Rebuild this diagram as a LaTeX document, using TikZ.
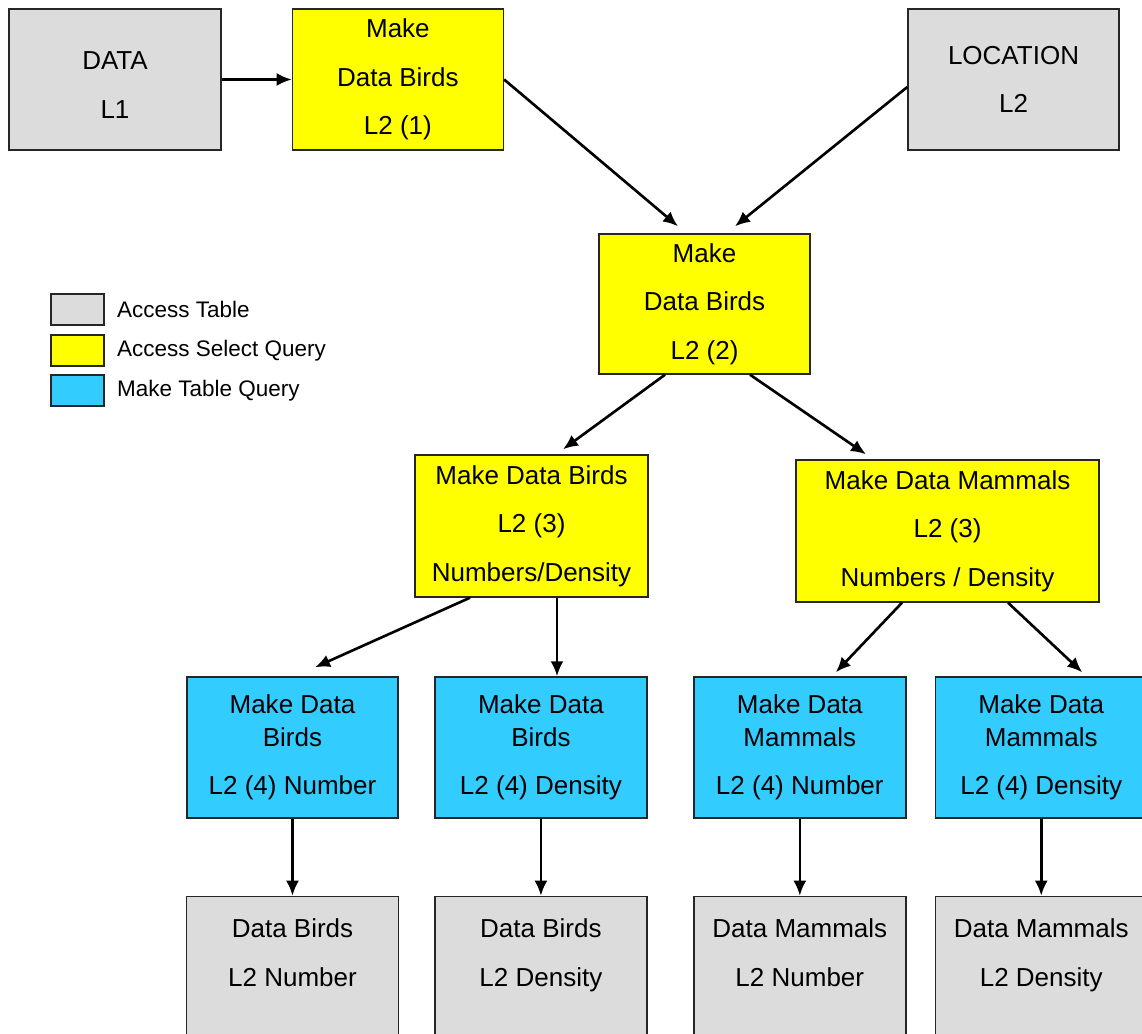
\documentclass[tikz,border=0pt]{standalone}
\usepackage{fontspec}
\setmainfont{Liberation Sans}
\usetikzlibrary{arrows.meta,positioning}
\definecolor{tblgray}{HTML}{DCDCDC}
\definecolor{selyellow}{HTML}{FFFF00}
\definecolor{mkblue}{HTML}{33CCFF}

\begin{document}
\begin{tikzpicture}[
  box/.style={draw=black!85,line width=0.8pt,align=center,inner sep=2pt,font=\fontsize{14.8}{27.5}\selectfont},
  tbl/.style={box,fill=tblgray},
  sel/.style={box,fill=selyellow},
  mk/.style={box,fill=mkblue},
  key/.style={draw=black!85,line width=0.8pt,minimum width=1.06cm,minimum height=0.62cm,inner sep=0pt},
  keytext/.style={right=0.24cm of #1,inner sep=0pt,font=\fontsize{12.8}{15}\selectfont},
  arr/.style={-{Latex[length=3mm,width=2.6mm]},line width=1.5pt}]
\useasboundingbox (0,0) rectangle (22.84,-20.68);
\fill[white] (0,0) rectangle (22.84,-20.68);
\clip (0,0) rectangle (22.84,-20.68);

% top row
\node[tbl,minimum width=4.24cm,minimum height=2.82cm] (data) at (2.30,-1.59) {\mbox{}\\[-11pt]DATA\\L1};
\node[sel,right=1.4cm of data,minimum width=4.22cm,minimum height=2.82cm] (birds1) {Make\\Data Birds\\L2 (1)};
\node[tbl,minimum width=4.22cm,minimum height=2.82cm] (location) at (20.27,-1.59) {LOCATION\\L2};

% select queries
\node[sel,minimum width=4.22cm,minimum height=2.80cm] (birds2) at (14.09,-6.08) {Make\\Data Birds\\L2 (2)};
\node[sel,minimum width=4.66cm,minimum height=2.84cm] (birds3) at (10.63,-10.52) {Make Data Birds\\L2 (3)\\Numbers/Density};
\node[sel,minimum width=6.06cm,minimum height=2.84cm] (mammals3) at (18.95,-10.62) {Make Data Mammals\\L2 (3)\\Numbers / Density};

% make table queries
\node[mk,minimum width=4.22cm,minimum height=2.82cm] (nbirds) at (5.85,-14.95) {Make Data\\[-9pt]Birds\\L2 (4) Number};
\node[mk,right=0.71cm of nbirds,minimum width=4.24cm,minimum height=2.82cm] (dbirds) {Make Data\\[-9pt]Birds\\L2 (4) Density};
\node[mk,right=0.91cm of dbirds,minimum width=4.24cm,minimum height=2.82cm] (nmammals) {Make Data\\[-9pt]Mammals\\L2 (4) Number};
\node[mk,right=0.56cm of nmammals,minimum width=4.24cm,minimum height=2.82cm] (dmammals) {Make Data\\[-9pt]Mammals\\L2 (4) Density};

% result tables
\node[tbl,below=1.54cm of nbirds,minimum width=4.24cm,minimum height=2.82cm] (tnbirds) {Data Birds\\L2 Number\\[-11pt]\mbox{}};
\node[tbl,below=1.54cm of dbirds,minimum width=4.24cm,minimum height=2.82cm] (tdbirds) {Data Birds\\L2 Density\\[-11pt]\mbox{}};
\node[tbl,below=1.54cm of nmammals,minimum width=4.24cm,minimum height=2.82cm] (tnmammals) {Data Mammals\\L2 Number\\[-11pt]\mbox{}};
\node[tbl,below=1.54cm of dmammals,minimum width=4.24cm,minimum height=2.82cm] (tdmammals) {Data Mammals\\L2 Density\\[-11pt]\mbox{}};

% legend
\node[key,fill=tblgray] (ktbl) at (1.55,-6.19) {};
\node[key,fill=selyellow] (ksel) at (1.55,-7.01) {};
\node[key,fill=mkblue] (kmk) at (1.55,-7.81) {};
\node[keytext=ktbl] (ltbl) {Access Table};
\node[keytext=ksel] (lsel) {Access Select Query};
\node[keytext=kmk] (lmk) {Make Table Query};

\draw[arr] (data) -- (birds1);
\draw[arr] (birds1.east) -- ([shift={(-0.53,0.14)}]birds2.north);
\draw[arr] ([yshift=-0.15cm]location.west) -- ([shift={(0.61,0.14)}]birds2.north);
\draw[arr] ([xshift=-0.79cm]birds2.south) -- ([shift={(0.63,0.10)}]birds3.north);
\draw[arr] ([xshift=0.91cm]birds2.south) -- ([shift={(-1.63,0.10)}]mammals3.north);
\draw[arr] ([xshift=-1.23cm]birds3.south) -- ([shift={(0.45,0.18)}]nbirds.north);
\draw[arr] ([xshift=0.51cm]birds3.south) -- ([xshift=0.51cm]birds3.south |- dbirds.north);
\draw[arr] ([xshift=-0.91cm]mammals3.south) -- ([shift={(0.72,0.08)}]nmammals.north);
\draw[arr] ([xshift=1.21cm]mammals3.south) -- ([shift={(0.82,0.08)}]dmammals.north);
\draw[arr] (nbirds) -- (tnbirds);
\draw[arr] (dbirds) -- (tdbirds);
\draw[arr] (nmammals) -- (tnmammals);
\draw[arr] (dmammals) -- (tdmammals);
\end{tikzpicture}
\end{document}
